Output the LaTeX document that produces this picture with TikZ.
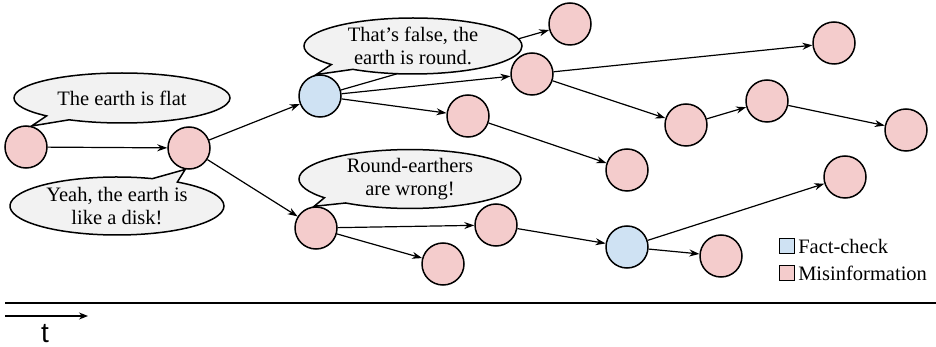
\documentclass[tikz,border=0pt]{standalone}
\usepackage{fontspec}
\setmainfont{Liberation Serif}
\newfontfamily\axisfont{Liberation Sans}
\usetikzlibrary{arrows.meta,shapes.callouts}

\definecolor{misinfo}{RGB}{244,204,204}
\definecolor{factchk}{RGB}{207,226,243}
\definecolor{bubblegray}{RGB}{242,242,242}

\tikzset{
  post/.style={circle,draw,line width=1.5pt,minimum size=42pt,inner sep=0pt,fill=misinfo},
  check/.style={post,fill=factchk},
  spread/.style={line width=1.2pt,-{Stealth[length=10pt,width=7pt]}},
  bubble/.style={ellipse callout,draw,line width=1.5pt,fill=bubblegray,align=center,
    inner sep=0pt,font=\fontsize{20.5}{23}\selectfont},
  legbox/.style={draw,line width=1.1pt,minimum size=15pt,inner sep=0pt}
}

\begin{document}
\begin{tikzpicture}[x=1pt,y=-1pt]
\useasboundingbox (0,0) rectangle (936,347);

% posts
\node[post]  (flat)   at (26,147)  {};
\node[post]  (disk)   at (189,148) {};
\node[check] (round)  at (320,96)  {};
\node[post]  (a1)     at (570,24)  {};
\node[post]  (a2)     at (532,74)  {};
\node[post]  (a3)     at (468,116) {};
\node[post]  (a4)     at (834,43)  {};
\node[post]  (a5)     at (686,125) {};
\node[post]  (a6)     at (767,101) {};
\node[post]  (a7)     at (906,130) {};
\node[post]  (a8)     at (627,170) {};
\node[post]  (wrong)  at (316,228) {};
\node[post]  (b1)     at (496,225) {};
\node[post]  (b2)     at (443,264) {};
\node[check] (fix)    at (627,247) {};
\node[post]  (b3)     at (721,256) {};
\node[post]  (b4)     at (845,177) {};

% spreading
\draw[spread] (flat) -- (disk);
\draw[spread] (disk) -- (round);
\draw[spread] (disk) -- (wrong);
\draw[spread] (round) -- (a1);
\draw[spread] (round) -- (a2);
\draw[spread] (round) -- (a3);
\draw[spread] (a2) -- (a4);
\draw[spread] (a2) -- (a5);
\draw[spread] (a5) -- (a6);
\draw[spread] (a6) -- (a7);
\draw[spread] (a3) -- (a8);
\draw[spread] (wrong) -- (b1);
\draw[spread] (wrong) -- (b2);
\draw[spread] (b1) -- (fix);
\draw[spread] (fix) -- (b4);
\draw[spread] (fix) -- (b3);

% speech bubbles
\node[bubble,minimum width=216pt,minimum height=50pt,callout absolute pointer={(flat.75)}]
  (say1) at (122,98) {The earth is flat};
\node[bubble,minimum width=214pt,minimum height=58pt,callout absolute pointer={(disk.260)}]
  (say2) at (117,206) {Yeah, the earth is\\like a disk!};
\node[bubble,minimum width=218pt,minimum height=56pt,callout absolute pointer={(round.100)}]
  (say3) at (413,46) {That's false, the\\earth is round.};
\node[bubble,minimum width=222pt,minimum height=56pt,callout absolute pointer={(wrong.95)}]
  (say4) at (410,179) {Round-earthers\\are wrong!};

% legend
\node[legbox,fill=factchk] (keyfc) at (787,246) {};
\node[anchor=west,inner sep=3pt,font=\fontsize{20.5}{23}\selectfont] (txtfc) at (keyfc.east) {Fact-check};
\node[legbox,fill=misinfo] (keymi) at (787,273) {};
\node[anchor=west,inner sep=3pt,font=\fontsize{20.5}{23}\selectfont] (txtmi) at (keymi.east) {Misinformation};

% time axis
\coordinate (rule0) at (5,303);
\coordinate (rule1) at (936,303);
\draw[line width=1.4pt] (rule0) -- (rule1);
\coordinate (t0) at (5,316);
\coordinate (t1) at (88,316);
\draw[line width=1.2pt,-{Stealth[length=9pt,width=7pt]}] (t0) -- (t1);
\node[font=\axisfont\fontsize{28}{30}\selectfont] (tlab) at (45,334) {t};
\end{tikzpicture}
\end{document}
